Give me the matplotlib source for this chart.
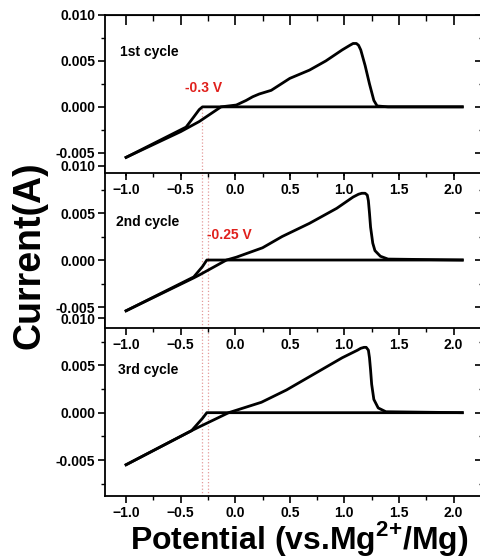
import numpy as np
import matplotlib
matplotlib.use("Agg")
import matplotlib.pyplot as plt
from matplotlib.ticker import MultipleLocator

plt.rcParams['font.family'] = ['Liberation Sans', 'DejaVu Sans']
plt.rcParams['font.weight'] = 'bold'
plt.rcParams['mathtext.fontset'] = 'custom'
plt.rcParams['mathtext.rm'] = 'Liberation Sans:bold'
plt.rcParams['mathtext.bf'] = 'Liberation Sans:bold'

# cathodic sweep (2.1 V -> -1.0 V) and anodic sweep (-1.0 V -> 2.1 V) per cycle
cath_v = [
    [2.08, -0.30, -0.33, -0.38, -0.45, -1.0],
    [2.08, -0.26, -0.30, -0.38, -1.0],
    [2.08, -0.26, -0.30, -0.40, -1.0],
]
cath_i = [
    [0.0, 0.0, -0.0003, -0.0011, -0.0022, -0.0055],
    [0.0, 0.0, -0.0007, -0.0018, -0.0054],
    [0.0, 0.0, -0.0006, -0.0019, -0.0055],
]
anod_v = [
    [-1.0, -0.5, -0.33, -0.13, 0.01, 0.10, 0.16, 0.22, 0.33, 0.50, 0.68, 0.83, 0.98,
     1.05, 1.08, 1.11, 1.13, 1.15, 1.19, 1.23, 1.27, 1.30, 1.40, 2.08],
    [-1.0, -0.38, -0.33, -0.08, 0.01, 0.25, 0.43, 0.68, 0.93, 1.08, 1.13, 1.16, 1.19,
     1.21, 1.22, 1.23, 1.24, 1.26, 1.28, 1.33, 1.40, 2.08],
    [-1.0, -0.40, -0.33, -0.06, 0.24, 0.47, 0.74, 0.98, 1.12, 1.15, 1.18, 1.20, 1.22,
     1.23, 1.24, 1.25, 1.27, 1.31, 1.38, 2.08],
]
anod_i = [
    [-0.0055, -0.0027, -0.0016, 0.0, 0.0002, 0.0007, 0.0011, 0.0014, 0.0018, 0.0031,
     0.0040, 0.0050, 0.0062, 0.0067, 0.0069, 0.0069, 0.0067, 0.0062, 0.0045, 0.0025,
     0.0007, 0.0001, 0.0, 0.0],
    [-0.0054, -0.0019, -0.0016, 0.0, 0.0003, 0.0013, 0.0025, 0.0039, 0.0055, 0.0067,
     0.0070, 0.0071, 0.0071, 0.0069, 0.0063, 0.0050, 0.0035, 0.0018, 0.0010, 0.0004,
     0.0001, 0.0],
    [-0.0055, -0.0019, -0.0015, 0.0, 0.0011, 0.0024, 0.0042, 0.0058, 0.0066, 0.0068,
     0.0069, 0.0069, 0.0066, 0.0058, 0.0045, 0.0030, 0.0014, 0.0005, 0.0001, 0.0],
]
labels = ['1st cycle', '2nd cycle', '3rd cycle']
label_pos = [(-1.06, 0.0060), (-1.09, 0.0040), (-1.07, 0.0045)]
onset = ['-0.3 V', '-0.25 V', None]
onset_pos = [(-0.29, 0.0021), (-0.05, 0.0027), None]
ylims = [(-0.0072, 0.010), (-0.00723, 0.010), (-0.0088, 0.010)]
# axes boxes in pixels (top, bottom)
boxes = [(15, 173), (166, 328), (318, 496)]

W, H = 481, 559
fig = plt.figure(figsize=(W / 100, H / 100), dpi=100)
left, right = 105 / W, 483 / W
red = '#e0201c'
pink = '#e49a9a'

axes = []
for k in range(3):
    top, bot = boxes[k]
    ax = fig.add_axes([left, (H - bot) / H, right - left, (bot - top) / H])
    ax.set_zorder(10 - k)
    ax.set_facecolor('white')
    ax.plot(cath_v[k], cath_i[k], color='black', lw=2.0, solid_joinstyle='round')
    ax.plot(anod_v[k], anod_i[k], color='black', lw=2.0, solid_joinstyle='round')
    ax.set_xlim(-1.193, 2.27)
    ax.set_ylim(*ylims[k])
    ax.set_xticks([-1.0, -0.5, 0.0, 0.5, 1.0, 1.5, 2.0])
    ax.set_yticks([-0.005, 0.0, 0.005, 0.010])
    ax.set_yticklabels(['-0.005', '0.000', '0.005', '0.010'])
    ax.xaxis.set_minor_locator(MultipleLocator(0.25))
    ax.yaxis.set_minor_locator(MultipleLocator(0.0025))
    ax.tick_params(which='major', direction='out', length=5, width=1.2,
                   labelsize=10, pad=2)
    ax.tick_params(which='minor', direction='out', length=3, width=1.0)
    for s in ax.spines.values():
        s.set_linewidth(1.3)
    sx = ax.secondary_xaxis('top')
    sx.set_xticks([-1.0, -0.5, 0.0, 0.5, 1.0, 1.5, 2.0])
    sx.xaxis.set_minor_locator(MultipleLocator(0.25))
    sx.tick_params(which='major', direction='in', length=7, width=1.2, labeltop=False)
    sx.tick_params(which='minor', direction='in', length=4, width=1.0)
    sy = ax.secondary_yaxis('right')
    sy.set_yticks([-0.005, 0.0, 0.005, 0.010])
    sy.yaxis.set_minor_locator(MultipleLocator(0.0025))
    sy.tick_params(which='major', direction='in', length=6, width=1.2, labelright=False)
    sy.tick_params(which='minor', direction='in', length=3, width=1.0)
    ax.text(label_pos[k][0], label_pos[k][1], labels[k], fontsize=10,
            fontweight='bold', va='center', ha='left')
    if onset[k]:
        ax.text(onset_pos[k][0], onset_pos[k][1], onset[k], fontsize=10,
                fontweight='bold', color=red, va='center', ha='center')
    axes.append(ax)

# onset marker lines
y0 = (0 - ylims[0][0]) / (ylims[0][1] - ylims[0][0])
axes[0].axvline(-0.30, ymin=0, ymax=y0, color=pink, lw=0.9, ls=':', zorder=0)
for ax in axes[1:]:
    ax.axvline(-0.30, color=pink, lw=0.9, ls=':', zorder=0)
    ax.axvline(-0.25, color=pink, lw=0.9, ls=':', zorder=0)

fig.text(30 / W, 1 - 255 / H, 'Current(A)', rotation=90, fontsize=27,
         fontweight='bold', ha='center', va='center')
fig.text(299 / W, 1 - 539 / H, r'Potential (vs.Mg$^{\text{2+}}$/Mg)', fontsize=23,
         fontweight='bold', ha='center', va='center')

fig.savefig('out.png', dpi=100)
